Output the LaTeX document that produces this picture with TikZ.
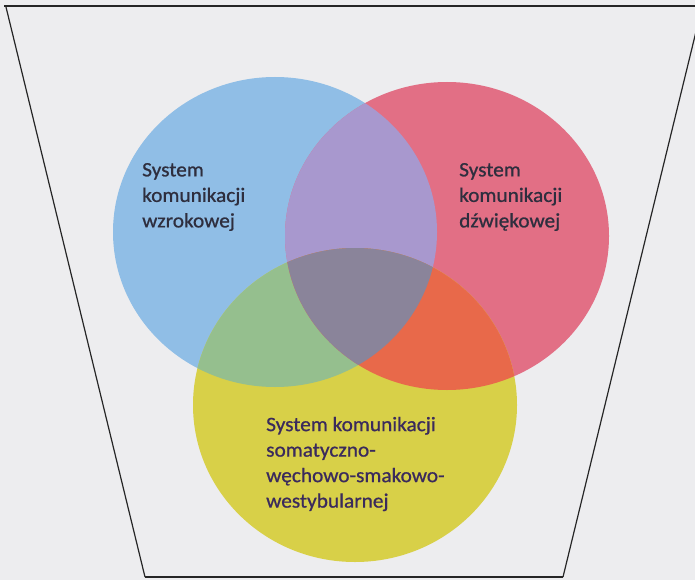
\documentclass[tikz,border=0pt]{standalone}
\usepackage{fontspec}
\setmainfont[FakeBold=0.8,FakeStretch=1.04]{Carlito}
\begin{document}
\begin{tikzpicture}[x=1pt,y=-1pt,
  lbl/.style={inner sep=0pt, anchor=west, align=left, font=\fontsize{20.5}{25.5}\selectfont},
  frame/.style={line width=1.6pt, draw=black!85}]
\definecolor{bg}{HTML}{EDEDEF}
\definecolor{cblue}{HTML}{90BEE6}
\definecolor{cred}{HTML}{E26F85}
\definecolor{cyel}{HTML}{D8D048}
\definecolor{cpur}{HTML}{A898CE}
\definecolor{cgreen}{HTML}{95BF8E}
\definecolor{corange}{HTML}{E8694A}
\definecolor{cgray}{HTML}{8A849A}
\definecolor{tdark}{HTML}{2E2E3E}
\definecolor{tpurp}{HTML}{3A2A5C}
\useasboundingbox (0,0) rectangle (695,580);
\fill[bg] (0,0) rectangle (695,580);
\def\blueE{(275,232) ellipse [x radius=162, y radius=155]}
\def\redE{(447,236) ellipse [x radius=162, y radius=154]}
\def\yelE{(355,405) ellipse [x radius=162, y radius=157]}
\fill[cblue] \blueE;
\fill[cred] \redE;
\fill[cyel] \yelE;
\begin{scope}\clip \blueE; \fill[cpur] \redE; \fill[cgreen] \yelE; \end{scope}
\begin{scope}\clip \redE; \fill[corange] \yelE; \end{scope}
\begin{scope}\clip \blueE; \clip \redE; \fill[cgray] \yelE; \end{scope}
% frame
\coordinate (tl) at (6,7);
\coordinate (tr) at (702,7);
\coordinate (bl) at (145,577);
\coordinate (br) at (563,577);
\coordinate (topa) at (4,6);
\coordinate (topb) at (695,6);
\draw[frame] (topa) -- (topb);
\draw[line width=1.2pt, draw=black!85] (tl) -- (bl);
\draw[line width=1.2pt, draw=black!85] (tr) -- (br);
\draw[line width=2.5pt, draw=black!85] (bl) -- (br);
% labels
\node[lbl, text=tdark] (tb) at (142,197) {System\\komunikacji\\wzrokowej};
\node[lbl, text=tdark] (tr2) at (459,197) {System\\komunikacji\\dźwiękowej};
\node[lbl, text=tpurp] (ty) at (266,464) {System komunikacji\\somatyczno-\\węchowo-smakowo-\\westybularnej};
\end{tikzpicture}
\end{document}
